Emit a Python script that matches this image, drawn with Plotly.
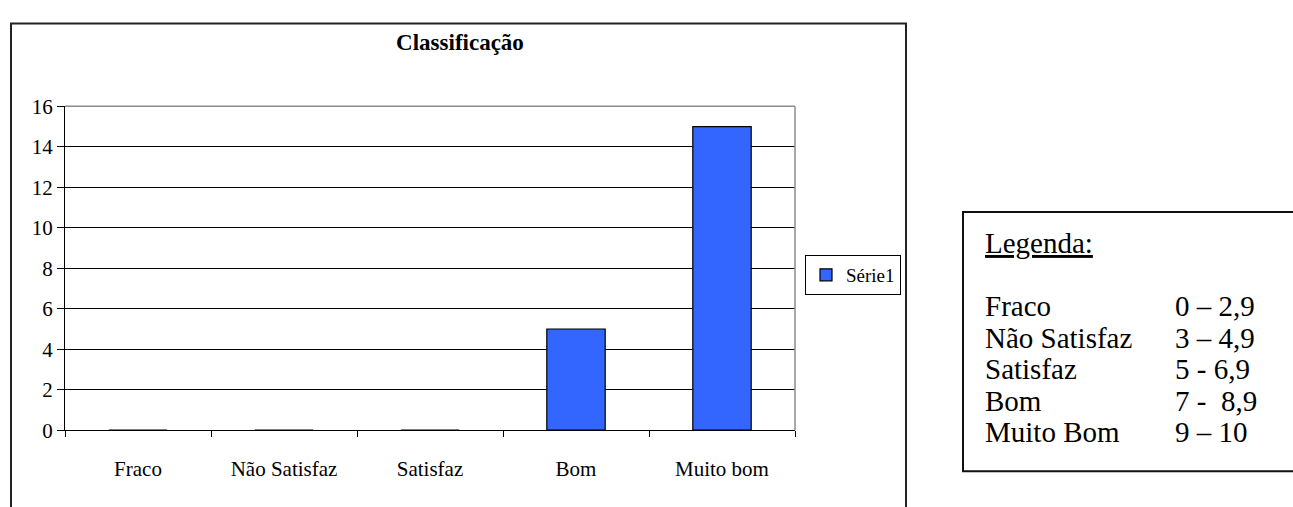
import plotly.graph_objects as go

# Data
categories = ['Fraco', 'Não Satisfaz', 'Satisfaz', 'Bom', 'Muito bom']
values = [0, 0, 0, 5, 15]
series_name = 'Série1'
y_ticks = [0, 2, 4, 6, 8, 10, 12, 14, 16]

legend_labels = ['Fraco', 'Não Satisfaz', 'Satisfaz', 'Bom', 'Muito Bom']
legend_ranges = ['0 – 2,9', '3 – 4,9', '5 - 6,9', '7 -  8,9', '9 – 10']

W, H = 1293, 507
FONT = 'Liberation Serif'


def px(x):
    return x / W


def py(y):
    return 1 - y / H


fig = go.Figure()

fig.add_trace(go.Bar(
    x=categories,
    y=values,
    name=series_name,
    marker=dict(color='#3366FF', line=dict(color='black', width=1.2)),
    showlegend=True,
))

# outer chart frame
fig.add_shape(type='rect', xref='paper', yref='paper',
              x0=px(11), x1=px(906), y0=-0.05, y1=py(12),
              line=dict(color='#222222', width=2), layer='below')
# grey top / right border of the plot area
fig.add_shape(type='line', xref='paper', yref='paper',
              x0=px(65), x1=px(795), y0=py(99), y1=py(99),
              line=dict(color='#8c8c8c', width=1.5))
fig.add_shape(type='line', xref='paper', yref='paper',
              x0=px(795), x1=px(795), y0=py(439), y1=py(99),
              line=dict(color='#8c8c8c', width=1.5))

# side box with the grading scale
fig.add_shape(type='rect', xref='paper', yref='paper',
              x0=px(963), x1=1.02, y0=py(482), y1=py(210),
              line=dict(color='#111111', width=2))

fig.add_annotation(x=px(983), y=py(243), xref='paper', yref='paper',
                   text='<u>Legenda:</u>', showarrow=False,
                   xanchor='left', yanchor='middle',
                   font=dict(family=FONT, size=29, color='black'))

row_y = [309, 342, 375, 408, 441]
for lab, rng, yy in zip(legend_labels, legend_ranges, row_y):
    fig.add_annotation(x=px(983), y=py(yy), xref='paper', yref='paper',
                       text=lab, showarrow=False, xanchor='left', yanchor='middle',
                       font=dict(family=FONT, size=29, color='black'))
    fig.add_annotation(x=px(1173), y=py(yy), xref='paper', yref='paper',
                       text=rng, showarrow=False, xanchor='left', yanchor='middle',
                       font=dict(family=FONT, size=29, color='black'))

fig.update_layout(
    width=W,
    height=H,
    margin=dict(l=0, r=0, t=0, b=0),
    paper_bgcolor='white',
    plot_bgcolor='white',
    bargap=0.6,
    title=dict(text='<b>Classificação</b>', x=px(460), y=py(42),
               xanchor='center', yanchor='middle',
               font=dict(family=FONT, size=23, color='black')),
    legend=dict(x=px(853), y=py(276), xanchor='center', yanchor='middle',
                bordercolor='black', borderwidth=1, bgcolor='white',
                font=dict(family=FONT, size=19, color='black'),
                itemwidth=30),
    xaxis=dict(
        domain=[px(65), px(795)],
        showline=True, linecolor='black', linewidth=1.2,
        ticks='outside', tickson='boundaries', ticklen=6, tickcolor='black',
        ticklabelstandoff=19,
        tickfont=dict(family=FONT, size=21, color='black'),
        showgrid=False,
    ),
    yaxis=dict(
        domain=[py(439), py(99)],
        range=[0, 16],
        tickvals=y_ticks,
        showline=True, linecolor='black', linewidth=1.2,
        ticks='outside', ticklen=7, tickcolor='black',
        tickfont=dict(family=FONT, size=21, color='black'),
        showgrid=True, gridcolor='black', gridwidth=1,
        zeroline=False,
    ),
)

# drop the default page margin so the figure sits at the window origin
fig.write_html('out.html', config={'displayModeBar': False},
               post_script="document.body.style.margin = '0';")
